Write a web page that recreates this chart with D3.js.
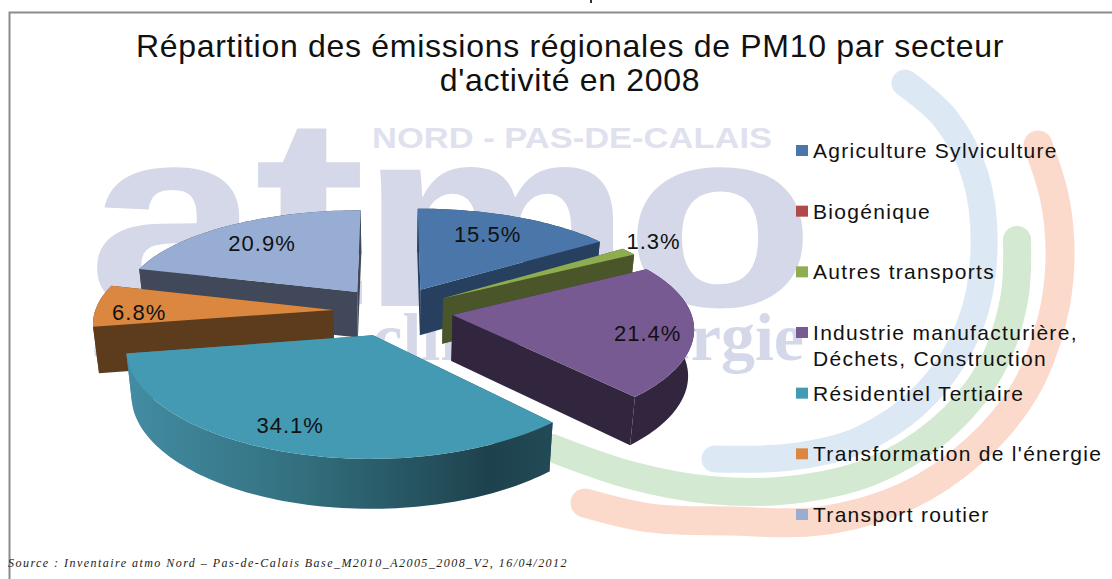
<!DOCTYPE html>
<html>
<head>
<meta charset="utf-8">
<script src="https://cdn.jsdelivr.net/npm/d3@7/dist/d3.min.js"></script>
<style>
body { margin: 0; background: white; }
svg { display: block; }
text { font-family: "Liberation Sans", Arial, sans-serif; }
</style>
</head>
<body>
<script>
// chart data
const categories = ["Agriculture Sylviculture", "Biogénique", "Autres transports",
  "Industrie manufacturière,|Déchets, Construction", "Résidentiel Tertiaire",
  "Transformation de l'énergie", "Transport routier"];
const shares = [15.5, 0, 1.3, 21.4, 34.1, 6.8, 20.9];
const colors = ["#4a76a9", "#b04a48", "#8eac50", "#775a92", "#4499b3", "#db8740", "#97add3"];
const sideColors = ["#27405f", "#5c2725", "#4a562a", "#32263f", "#1f444f", "#5d3c1e", "#414859"];

// where each percent label sits: fraction of the radius, then a small nudge
const labelRadius = [0.75, 0, 1.23, 0.79, 0.78, 0.8, 0.76];
const labelNudge = [[-7, 0], [0, 0], [-15, -1], [5, 6], [-13, 2], [-5, 6], [4, 3]];

const width = 1112;
const height = 579;

// pie geometry, plane units then perspective
const cx = 393, cy = 311;
const R = 238;
const explode = 60;
const tilt = 0.413;
const persp = 0.0006;
const depth = 46;

let c = d3.select("body").append("svg")
  .attr("width", width)
  .attr("height", height);

let gradient = c.append("defs").append("linearGradient")
  .attr("id", "wall4")
  .attr("gradientUnits", "userSpaceOnUse")
  .attr("x1", 128).attr("x2", 553).attr("y1", 0).attr("y2", 0);
gradient.selectAll("stop")
  .data([[0, "#438ca3"], [0.4, "#33707f"], [0.85, "#1e424d"], [1, "#224a56"]])
  .join("stop")
  .attr("offset", d => d[0])
  .attr("stop-color", d => d[1]);

// logo arcs in the background
const arcLine = d3.line().curve(d3.curveCatmullRom);
const logoArcs = [
  { color: "#dce9f5", w: 27, pts: [[905, 83], [945, 118], [975, 175], [984, 250], [970, 325], [925, 395], [860, 440], [790, 457], [715, 459]] },
  { color: "#d3e9d2", w: 28, pts: [[1017, 240], [1014, 300], [990, 370], [940, 430], [870, 472], [790, 490], [710, 490], [630, 475], [552, 448]] },
  { color: "#fbd9cb", w: 29, pts: [[1038, 145], [1055, 200], [1060, 260], [1052, 320], [1025, 390], [975, 450], [905, 497], [820, 521], [730, 521], [650, 518], [585, 503]] }
];
c.selectAll(".logoarc")
  .data(logoArcs)
  .join("path")
  .attr("class", "logoarc")
  .attr("d", d => arcLine(d.pts))
  .attr("fill", "none")
  .attr("stroke", d => d.color)
  .attr("stroke-width", d => d.w)
  .attr("stroke-linecap", "round");

// watermark, letter by letter since the logo is wider than the font
c.selectAll(".logo")
  .data([["a", 88, 172, 258], ["t", 254, 112, 272], ["m", 360, 272, 258], ["o", 625, 190, 258]])
  .join("text")
  .attr("class", "logo")
  .attr("x", d => d[1])
  .attr("y", 306)
  .attr("textLength", d => d[2])
  .attr("lengthAdjust", "spacingAndGlyphs")
  .attr("font-size", d => d[3])
  .attr("font-weight", "bold")
  .attr("fill", "#d5d8e8")
  .text(d => d[0]);
c.append("text")
  .attr("x", 372).attr("y", 148)
  .attr("textLength", 400).attr("lengthAdjust", "spacingAndGlyphs")
  .attr("font-size", 29).attr("font-weight", "bold")
  .attr("fill", "#dfe1ee")
  .text("NORD - PAS-DE-CALAIS");
c.append("text")
  .attr("x", 92).attr("y", 360)
  .attr("font-size", 68).attr("font-weight", "bold")
  .style("font-family", "'Liberation Serif', serif")
  .attr("fill", "#d5d8e8")
  .text("air");
c.append("text")
  .attr("x", 804).attr("y", 360)
  .attr("text-anchor", "end")
  .attr("font-size", 68).attr("font-weight", "bold")
  .attr("word-spacing", 22)
  .style("font-family", "'Liberation Serif', serif")
  .attr("fill", "#d5d8e8")
  .text("climat énergie");

// frame
c.append("path")
  .attr("d", `M9.5,${height}V12.5H${width}`)
  .attr("fill", "none")
  .attr("stroke", "#8c8c8c")
  .attr("stroke-width", 2);

// bit of the cropped text line above the frame
c.append("rect")
  .attr("x", 590).attr("y", 0)
  .attr("width", 2).attr("height", 3)
  .attr("fill", "#333");

// angles come straight from d3.pie, keeping the data order
const slices = d3.pie().sort(null).value(d => d)(shares)
  .map((s, i) => ({ ...s, i, mid: (s.startAngle + s.endAngle) / 2 }))
  .filter(s => s.value > 0);

// takes a point of the exploded pie plane to the page
function project(s, r, a, down) {
  const X = explode * Math.sin(s.mid) + r * Math.sin(a);
  const Y = -explode * Math.cos(s.mid) - r * Math.cos(a);
  const p = 1 / (1 - persp * Y);
  const px = X * (1 + (p - 1) * 0.8);
  const py = Y * tilt * p;
  if (down) return [cx + px * 0.98, cy + py + depth * (1 + (p - 1) * 0.4)];
  return [cx + px, cy + py];
}

function arcPoints(s, down) {
  const n = Math.max(6, Math.ceil((s.endAngle - s.startAngle) * 40));
  return d3.range(n + 1).map(j =>
    project(s, R, s.startAngle + (s.endAngle - s.startAngle) * j / n, down));
}

const polygon = pts => "M" + pts.map(p => p.join(",")).join("L") + "Z";

// back slices first
const order = slices.slice().sort((a, b) => d3.ascending(-Math.cos(a.mid), -Math.cos(b.mid)));

let groups = c.selectAll(".slice")
  .data(order)
  .join("g")
  .attr("class", "slice");

const sideFill = s => s.i === 4 ? "url(#wall4)" : sideColors[s.i];

// radial faces
groups.selectAll(".face")
  .data(s => [[s, s.startAngle], [s, s.endAngle]])
  .join("path")
  .attr("class", "face")
  .attr("d", ([s, a]) => polygon([
    project(s, 0, a, false), project(s, R, a, false),
    project(s, R, a, true), project(s, 0, a, true)]))
  .attr("fill", ([s]) => sideFill(s));

// outer wall
groups.append("path")
  .attr("d", s => polygon(arcPoints(s, false).concat(arcPoints(s, true).reverse())))
  .attr("fill", sideFill);

// top
groups.append("path")
  .attr("d", s => polygon([project(s, 0, 0, false)].concat(arcPoints(s, false))))
  .attr("fill", s => colors[s.i]);

// percent labels
c.selectAll(".pct")
  .data(slices)
  .join("text")
  .attr("class", "pct")
  .attr("x", s => project(s, R * labelRadius[s.i], s.mid, false)[0] + labelNudge[s.i][0])
  .attr("y", s => project(s, R * labelRadius[s.i], s.mid, false)[1] + 8 + labelNudge[s.i][1])
  .attr("text-anchor", "middle")
  .attr("font-size", 22)
  .attr("letter-spacing", 1)
  .attr("fill", "#111")
  .text(s => s.value.toFixed(1) + "%");

// title
c.selectAll(".title")
  .data(["Répartition des émissions régionales de PM10 par secteur", "d'activité en 2008"])
  .join("text")
  .attr("class", "title")
  .attr("x", 570)
  .attr("y", (d, i) => 57 + i * 34)
  .attr("text-anchor", "middle")
  .attr("font-size", 32)
  .attr("letter-spacing", 0.7)
  .attr("fill", "#111")
  .text(d => d);

// legend
const legendY = d3.scalePoint().domain(d3.range(categories.length)).range([151, 515]);
let legend = c.selectAll(".legend")
  .data(categories)
  .join("g")
  .attr("class", "legend");
legend.append("rect")
  .attr("x", 796)
  .attr("y", (d, i) => legendY(i) - 6)
  .attr("width", 12)
  .attr("height", 11)
  .attr("fill", (d, i) => colors[i]);
legend.selectAll("text")
  .data((d, i) => d.split("|").map((t, j) => ({ t, j, i })))
  .join("text")
  .attr("x", 813)
  .attr("y", d => legendY(d.i) + 7 + d.j * 26)
  .attr("font-size", 21)
  .attr("letter-spacing", 1.3)
  .attr("fill", "#111")
  .text(d => d.t);

// source line
c.append("text")
  .attr("x", 8).attr("y", 567)
  .attr("font-size", 12)
  .attr("font-style", "italic")
  .attr("letter-spacing", 1.46)
  .style("font-family", "'Liberation Serif', serif")
  .attr("fill", "#222")
  .text("Source : Inventaire atmo Nord – Pas-de-Calais Base_M2010_A2005_2008_V2, 16/04/2012");
</script>
</body>
</html>
